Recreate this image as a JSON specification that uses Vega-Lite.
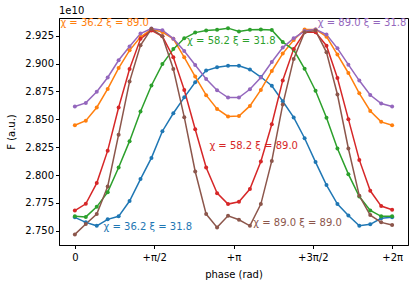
{
  "$schema": "https://vega.github.io/schema/vega-lite/v6.json",
  "width": 349,
  "height": 227,
  "autosize": {"type": "none"},
  "padding": {"left": 59, "top": 18, "right": 8, "bottom": 40},
  "title": {"text": "1e10", "anchor": "start", "frame": "group", "fontSize": 10, "fontWeight": "normal", "font": "DejaVu Sans", "offset": 2, "color": "black"},
  "config": {
    "view": {"stroke": "black", "strokeWidth": 1},
    "font": "DejaVu Sans",
    "axis": {"grid": false, "domainColor": "black", "tickColor": "black", "labelColor": "black", "titleColor": "black", "labelFont": "DejaVu Sans", "titleFont": "DejaVu Sans", "labelFontSize": 10, "titleFontSize": 10, "titleFontWeight": "normal", "tickSize": 3.5}
  },
  "datasets": {
    "pts": [
      {"c":"s1","x":0,"y":2.7621},{"c":"s1","x":0.2167,"y":2.7576},{"c":"s1","x":0.4333,"y":2.7545},{"c":"s1","x":0.65,"y":2.7603},{"c":"s1","x":0.8666,"y":2.763},{"c":"s1","x":1.0833,"y":2.7767},{"c":"s1","x":1.3,"y":2.7964},{"c":"s1","x":1.5166,"y":2.8154},{"c":"s1","x":1.7333,"y":2.8393},{"c":"s1","x":1.95,"y":2.8554},{"c":"s1","x":2.1666,"y":2.8697},{"c":"s1","x":2.3833,"y":2.8832},{"c":"s1","x":2.5999,"y":2.8937},{"c":"s1","x":2.8166,"y":2.8966},{"c":"s1","x":3.0333,"y":2.898},{"c":"s1","x":3.2499,"y":2.898},{"c":"s1","x":3.4666,"y":2.8947},{"c":"s1","x":3.6833,"y":2.8879},{"c":"s1","x":3.8999,"y":2.8801},{"c":"s1","x":4.1166,"y":2.8662},{"c":"s1","x":4.3332,"y":2.8517},{"c":"s1","x":4.5499,"y":2.833},{"c":"s1","x":4.7666,"y":2.8116},{"c":"s1","x":4.9832,"y":2.791},{"c":"s1","x":5.1999,"y":2.774},{"c":"s1","x":5.4166,"y":2.7637},{"c":"s1","x":5.6332,"y":2.7545},{"c":"s1","x":5.8499,"y":2.7558},{"c":"s1","x":6.0665,"y":2.7612},{"c":"s1","x":6.2832,"y":2.7621},
      {"c":"s2","x":0,"y":2.8447},{"c":"s2","x":0.2167,"y":2.8487},{"c":"s2","x":0.4333,"y":2.8606},{"c":"s2","x":0.65,"y":2.8772},{"c":"s2","x":0.8666,"y":2.8959},{"c":"s2","x":1.0833,"y":2.9118},{"c":"s2","x":1.3,"y":2.9237},{"c":"s2","x":1.5166,"y":2.9306},{"c":"s2","x":1.7333,"y":2.9282},{"c":"s2","x":1.95,"y":2.9221},{"c":"s2","x":2.1666,"y":2.9056},{"c":"s2","x":2.3833,"y":2.8883},{"c":"s2","x":2.5999,"y":2.8716},{"c":"s2","x":2.8166,"y":2.8593},{"c":"s2","x":3.0333,"y":2.8526},{"c":"s2","x":3.2499,"y":2.853},{"c":"s2","x":3.4666,"y":2.862},{"c":"s2","x":3.6833,"y":2.8763},{"c":"s2","x":3.8999,"y":2.8933},{"c":"s2","x":4.1166,"y":2.9089},{"c":"s2","x":4.3332,"y":2.9211},{"c":"s2","x":4.5499,"y":2.9306},{"c":"s2","x":4.7666,"y":2.9306},{"c":"s2","x":4.9832,"y":2.9241},{"c":"s2","x":5.1999,"y":2.908},{"c":"s2","x":5.4166,"y":2.8915},{"c":"s2","x":5.6332,"y":2.8733},{"c":"s2","x":5.8499,"y":2.8575},{"c":"s2","x":6.0665,"y":2.8477},{"c":"s2","x":6.2832,"y":2.8447},
      {"c":"s3","x":0,"y":2.763},{"c":"s3","x":0.2167,"y":2.7625},{"c":"s3","x":0.4333,"y":2.7715},{"c":"s3","x":0.65,"y":2.7847},{"c":"s3","x":0.8666,"y":2.8068},{"c":"s3","x":1.0833,"y":2.8304},{"c":"s3","x":1.3,"y":2.857},{"c":"s3","x":1.5166,"y":2.8803},{"c":"s3","x":1.7333,"y":2.8995},{"c":"s3","x":1.95,"y":2.9129},{"c":"s3","x":2.1666,"y":2.9226},{"c":"s3","x":2.3833,"y":2.9277},{"c":"s3","x":2.5999,"y":2.9295},{"c":"s3","x":2.8166,"y":2.9302},{"c":"s3","x":3.0333,"y":2.9317},{"c":"s3","x":3.2499,"y":2.9287},{"c":"s3","x":3.4666,"y":2.9302},{"c":"s3","x":3.6833,"y":2.9306},{"c":"s3","x":3.8999,"y":2.93},{"c":"s3","x":4.1166,"y":2.9192},{"c":"s3","x":4.3332,"y":2.9123},{"c":"s3","x":4.5499,"y":2.8953},{"c":"s3","x":4.7666,"y":2.8756},{"c":"s3","x":4.9832,"y":2.8514},{"c":"s3","x":5.1999,"y":2.8238},{"c":"s3","x":5.4166,"y":2.8008},{"c":"s3","x":5.6332,"y":2.7807},{"c":"s3","x":5.8499,"y":2.7683},{"c":"s3","x":6.0665,"y":2.763},{"c":"s3","x":6.2832,"y":2.763},
      {"c":"s4","x":0,"y":2.7682},{"c":"s4","x":0.2167,"y":2.7742},{"c":"s4","x":0.4333,"y":2.7928},{"c":"s4","x":0.65,"y":2.8219},{"c":"s4","x":0.8666,"y":2.8606},{"c":"s4","x":1.0833,"y":2.895},{"c":"s4","x":1.3,"y":2.9221},{"c":"s4","x":1.5166,"y":2.9297},{"c":"s4","x":1.7333,"y":2.9244},{"c":"s4","x":1.95,"y":2.9056},{"c":"s4","x":2.1666,"y":2.8763},{"c":"s4","x":2.3833,"y":2.8411},{"c":"s4","x":2.5999,"y":2.8068},{"c":"s4","x":2.8166,"y":2.7838},{"c":"s4","x":3.0333,"y":2.774},{"c":"s4","x":3.2499,"y":2.776},{"c":"s4","x":3.4666,"y":2.7874},{"c":"s4","x":3.6833,"y":2.8122},{"c":"s4","x":3.8999,"y":2.8456},{"c":"s4","x":4.1166,"y":2.8847},{"c":"s4","x":4.3332,"y":2.913},{"c":"s4","x":4.5499,"y":2.928},{"c":"s4","x":4.7666,"y":2.928},{"c":"s4","x":4.9832,"y":2.916},{"c":"s4","x":5.1999,"y":2.887},{"c":"s4","x":5.4166,"y":2.8501},{"c":"s4","x":5.6332,"y":2.8136},{"c":"s4","x":5.8499,"y":2.7859},{"c":"s4","x":6.0665,"y":2.7722},{"c":"s4","x":6.2832,"y":2.7689},
      {"c":"s5","x":0,"y":2.8614},{"c":"s5","x":0.2167,"y":2.8647},{"c":"s5","x":0.4333,"y":2.8747},{"c":"s5","x":0.65,"y":2.8875},{"c":"s5","x":0.8666,"y":2.9029},{"c":"s5","x":1.0833,"y":2.9152},{"c":"s5","x":1.3,"y":2.9269},{"c":"s5","x":1.5166,"y":2.9313},{"c":"s5","x":1.7333,"y":2.9299},{"c":"s5","x":1.95,"y":2.9223},{"c":"s5","x":2.1666,"y":2.9112},{"c":"s5","x":2.3833,"y":2.8987},{"c":"s5","x":2.5999,"y":2.8861},{"c":"s5","x":2.8166,"y":2.876},{"c":"s5","x":3.0333,"y":2.8695},{"c":"s5","x":3.2499,"y":2.8695},{"c":"s5","x":3.4666,"y":2.8769},{"c":"s5","x":3.6833,"y":2.8875},{"c":"s5","x":3.8999,"y":2.9013},{"c":"s5","x":4.1166,"y":2.9143},{"c":"s5","x":4.3332,"y":2.9226},{"c":"s5","x":4.5499,"y":2.9291},{"c":"s5","x":4.7666,"y":2.9306},{"c":"s5","x":4.9832,"y":2.9259},{"c":"s5","x":5.1999,"y":2.9136},{"c":"s5","x":5.4166,"y":2.899},{"c":"s5","x":5.6332,"y":2.8847},{"c":"s5","x":5.8499,"y":2.8718},{"c":"s5","x":6.0665,"y":2.8641},{"c":"s5","x":6.2832,"y":2.8614},
      {"c":"s6","x":0,"y":2.7468},{"c":"s6","x":0.2167,"y":2.7561},{"c":"s6","x":0.4333,"y":2.765},{"c":"s6","x":0.65,"y":2.7898},{"c":"s6","x":0.8666,"y":2.8362},{"c":"s6","x":1.0833,"y":2.8838},{"c":"s6","x":1.3,"y":2.9163},{"c":"s6","x":1.5166,"y":2.9311},{"c":"s6","x":1.7333,"y":2.9244},{"c":"s6","x":1.95,"y":2.8951},{"c":"s6","x":2.1666,"y":2.8519},{"c":"s6","x":2.3833,"y":2.8032},{"c":"s6","x":2.5999,"y":2.765},{"c":"s6","x":2.8166,"y":2.7531},{"c":"s6","x":3.0333,"y":2.7635},{"c":"s6","x":3.2499,"y":2.7599},{"c":"s6","x":3.4666,"y":2.7545},{"c":"s6","x":3.6833,"y":2.774},{"c":"s6","x":3.8999,"y":2.8127},{"c":"s6","x":4.1166,"y":2.8632},{"c":"s6","x":4.3332,"y":2.9041},{"c":"s6","x":4.5499,"y":2.928},{"c":"s6","x":4.7666,"y":2.9295},{"c":"s6","x":4.9832,"y":2.91},{"c":"s6","x":5.1999,"y":2.8722},{"c":"s6","x":5.4166,"y":2.8238},{"c":"s6","x":5.6332,"y":2.7814},{"c":"s6","x":5.8499,"y":2.7641},{"c":"s6","x":6.0665,"y":2.7576},{"c":"s6","x":6.2832,"y":2.7552}
    ],
    "labels": [
      {"c":"s1","t":"χ = 36.2  ξ = 31.8","x":0.569,"y":2.7537},
      {"c":"s2","t":"χ = 36.2  ξ = 89.0","x":-0.2865,"y":2.936},
      {"c":"s3","t":"χ = 58.2  ξ = 31.8","x":2.223,"y":2.9202},
      {"c":"s4","t":"χ = 58.2  ξ = 89.0","x":2.664,"y":2.8262},
      {"c":"s5","t":"χ = 89.0  ξ = 31.8","x":4.811,"y":2.936},
      {"c":"s6","t":"χ = 89.0  ξ = 89.0","x":3.533,"y":2.7567}
    ]
  },
  "encoding": {
    "x": {"field": "x", "type": "quantitative", "scale": {"domain": [-0.3142, 6.5974], "nice": false, "zero": false},
      "axis": {"title": "phase (rad)", "values": [0, 1.5708, 3.1416, 4.7124, 6.2832], "labelExpr": "datum.value < 0.5 ? '0' : datum.value < 2 ? '+π/2' : datum.value < 4 ? '+π' : datum.value < 5 ? '+3π/2' : '+2π'", "labelPadding": 4, "titlePadding": 7}},
    "y": {"field": "y", "type": "quantitative", "scale": {"domain": [2.7373, 2.9408], "nice": false, "zero": false},
      "axis": {"title": "F (a.u.)", "values": [2.75, 2.775, 2.8, 2.825, 2.85, 2.875, 2.9, 2.925], "format": ".3f", "titlePadding": 8}},
    "color": {"field": "c", "type": "nominal", "legend": null,
      "scale": {"domain": ["s1","s2","s3","s4","s5","s6"], "range": ["#1f77b4","#ff7f0e","#2ca02c","#d62728","#9467bd","#8c564b"]}}
  },
  "layer": [
    {
      "data": {"name": "pts"},
      "mark": {"type": "line", "strokeWidth": 1.5, "point": {"filled": true, "size": 16}},
      "encoding": {"order": {"field": "x", "type": "quantitative"}}
    },
    {
      "data": {"name": "labels"},
      "mark": {"type": "text", "align": "left", "baseline": "middle", "fontSize": 10, "font": "DejaVu Sans"},
      "encoding": {"text": {"field": "t"}}
    }
  ]
}
